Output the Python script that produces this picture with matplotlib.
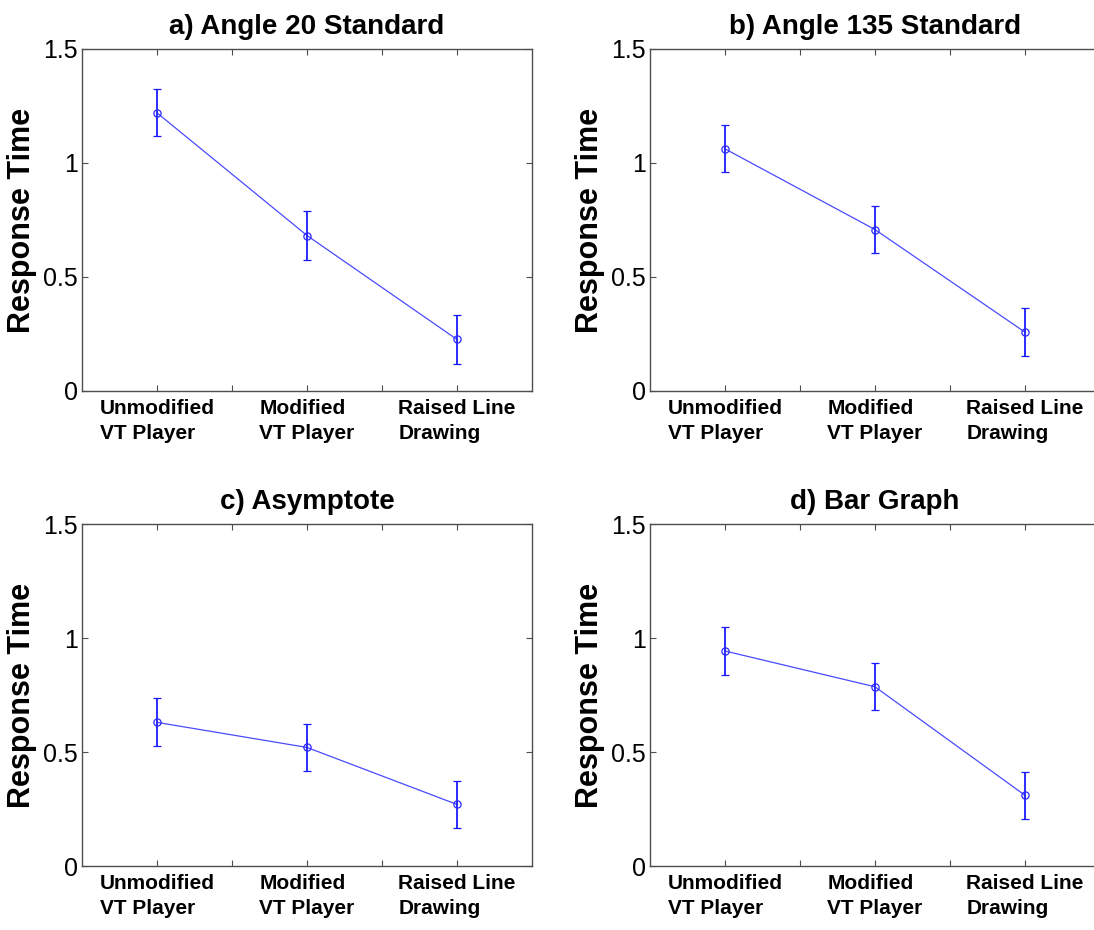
import matplotlib.pyplot as plt
import numpy as np

plt.rcParams['font.family'] = ['Liberation Sans', 'DejaVu Sans']

# data
conditions = ["Unmodified\nVT Player", "Modified\nVT Player", "Raised Line\nDrawing"]
titles = ["a) Angle 20 Standard", "b) Angle 135 Standard", "c) Asymptote", "d) Bar Graph"]

angle20_mean = [1.22, 0.682, 0.226]
angle20_err = [0.103, 0.106, 0.106]
angle135_mean = [1.062, 0.708, 0.258]
angle135_err = [0.103, 0.104, 0.104]
asymptote_mean = [0.630, 0.520, 0.270]
asymptote_err = [0.105, 0.104, 0.104]
bargraph_mean = [0.943, 0.786, 0.310]
bargraph_err = [0.104, 0.103, 0.103]

means = [angle20_mean, angle135_mean, asymptote_mean, bargraph_mean]
errs = [angle20_err, angle135_err, asymptote_err, bargraph_err]

y_ticks = [0, 0.5, 1, 1.5]
y_ticklabels = ["0", "0.5", "1", "1.5"]

fig = plt.figure(figsize=(10.94, 9.30), dpi=100)

# axes boxes in pixels: left, top (from image top)
W, H = 1094, 930
aw, ah = 450, 342
boxes = [(82, 49), (650, 49), (82, 524), (650, 524)]

x = np.arange(1, len(conditions) + 1)

for i, (left, top) in enumerate(boxes):
    ax = fig.add_axes([left / W, 1 - (top + ah) / H, aw / W, ah / H])

    ax.plot(x, means[i], color='#4a4aff', lw=0.9, zorder=2)
    ax.errorbar(x, means[i], yerr=errs[i], fmt='o', color='#1a1aff',
                mfc='none', mec='#2a2aff', ms=5.2, mew=0.9,
                elinewidth=1.3, capsize=3, capthick=1.1, zorder=3)

    ax.set_xlim(0.5, 3.5)
    ax.set_ylim(0, 1.5)
    ax.set_xticks([1, 1.5, 2, 2.5, 3])
    ax.set_xticklabels([conditions[0], "", conditions[1], "", conditions[2]],
                       fontsize=15, fontweight='bold', multialignment='left',
                       linespacing=1.4)
    ax.set_yticks(y_ticks)
    ax.set_yticklabels(y_ticklabels, fontsize=18)
    ax.tick_params(direction='in', length=4, width=0.8, color='0.3',
                   top=True, right=True)
    ax.tick_params(axis='x', pad=6)
    ax.tick_params(axis='y', pad=3)
    for s in ax.spines.values():
        s.set_color('0.3')
        s.set_linewidth(1.0)

    ax.set_title(titles[i], fontsize=20, fontweight='bold', pad=11)
    ax.set_ylabel("Response Time", fontsize=22, fontweight='bold')
    ax.yaxis.set_label_coords(-0.1, 0.5)

fig.savefig("out.png", dpi=100)
